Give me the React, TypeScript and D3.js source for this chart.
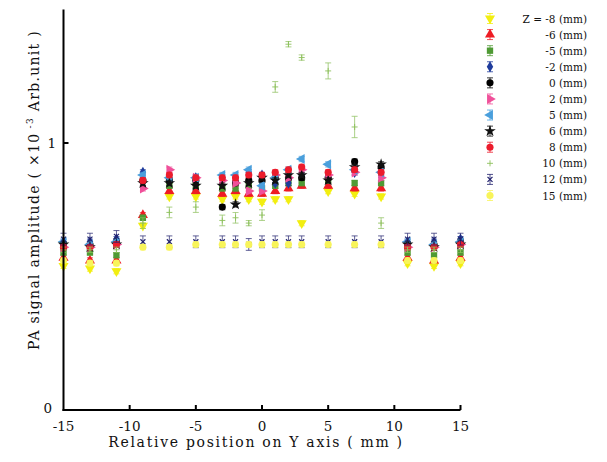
import * as d3 from 'd3';

const positions = [-15, -13, -11, -9, -7, -5, -3, -2, -1, 0, 1, 2, 3, 5, 7, 9, 11, 13, 15];

const zMinus8 = [0.54, 0.53, 0.52, 0.69, 0.80, 0.80, 0.79, 0.80, 0.79, 0.78, 0.79, 0.79, 0.70, 0.82, 0.81, 0.80, 0.55, 0.54, 0.55];
const zMinus6 = [0.57, 0.56, 0.56, 0.73, 0.82, 0.82, 0.81, 0.82, 0.81, 0.81, 0.82, 0.83, 0.84, 0.84, 0.83, 0.83, 0.57, 0.56, 0.57];
const zMinus5 = [0.59, 0.59, 0.58, 0.72, 0.84, 0.84, 0.83, 0.83, 0.84, 0.83, 0.84, 0.85, 0.85, 0.86, 0.85, 0.85, 0.59, 0.58, 0.59];
const zMinus2 = [0.63, 0.63, 0.64, 0.89, 0.87, 0.87, 0.87, 0.86, 0.89, 0.88, 0.85, 0.85, 0.88, 0.88, 0.89, 0.88, 0.63, 0.63, 0.64];
const z0 = [0.62, 0.62, 0.63, 0.86, 0.86, 0.86, 0.76, 0.85, 0.86, 0.86, 0.87, 0.87, 0.87, 0.87, 0.93, 0.91, 0.62, 0.62, 0.63];
const z2 = [0.61, 0.61, 0.62, 0.83, 0.90, 0.87, 0.86, 0.85, 0.82, 0.82, 0.88, 0.87, 0.90, 0.88, 0.89, 0.87, 0.61, 0.61, 0.62];
const z5 = [0.63, 0.62, 0.63, 0.88, 0.87, 0.87, 0.88, 0.88, 0.90, 0.84, 0.87, 0.90, 0.94, 0.92, 0.90, 0.89, 0.63, 0.62, 0.63];
const z6 = [0.62, 0.61, 0.62, 0.85, 0.85, 0.84, 0.84, 0.77, 0.85, 0.87, 0.86, 0.88, 0.88, 0.86, 0.91, 0.92, 0.62, 0.61, 0.62];
const z8 = [0.61, 0.61, 0.62, 0.86, 0.88, 0.87, 0.87, 0.87, 0.88, 0.88, 0.89, 0.90, 0.91, 0.89, 0.90, 0.89, 0.61, 0.61, 0.62];
const z10 = [0.60, 0.60, 0.60, 0.70, 0.74, 0.76, 0.71, 0.72, 0.70, 0.73, 1.21, 1.37, 1.32, 1.27, 1.06, 0.70, 0.60, 0.60, 0.60];
const z12 = [0.64, 0.64, 0.65, 0.63, 0.63, 0.63, 0.63, 0.63, 0.62, 0.63, 0.63, 0.63, 0.63, 0.63, 0.63, 0.63, 0.64, 0.64, 0.64];
const z15 = [0.56, 0.55, 0.55, 0.61, 0.61, 0.62, 0.62, 0.62, 0.62, 0.62, 0.62, 0.62, 0.62, 0.62, 0.62, 0.62, 0.56, 0.56, 0.56];

const z10Err = [0.01, 0.01, 0.01, 0.02, 0.02, 0.02, 0.02, 0.02, 0.01, 0.02, 0.02, 0.01, 0.01, 0.03, 0.04, 0.02, 0.01, 0.01, 0.01];

const labels = ['Z = -8 (mm)', '-6 (mm)', '-5 (mm)', '-2 (mm)', '0 (mm)', '2 (mm)', '5 (mm)', '6 (mm)', '8 (mm)', '10 (mm)', '12 (mm)', '15 (mm)'];
const seriesValues = [zMinus8, zMinus6, zMinus5, zMinus2, z0, z2, z5, z6, z8, z10, z12, z15];
const seriesErr = [0.01, 0.01, 0.01, 0.01, 0.01, 0.01, 0.01, 0.01, 0.01, 0, 0.022, 0.01];

const colors = ['#f2ee10', '#ee1c24', '#4f9a34', '#1f3c9c', '#000000', '#f0509a', '#4a9fdc', '#111111', '#ec1c2c', '#8cbf5a', '#23236e', '#f8f45a'];
const shapes = ['triDown', 'triUp', 'square', 'diamond', 'circle', 'triRight', 'triLeft', 'star', 'circle', 'plus', 'x', 'circle'];

const W = 607;
const H = 462;
const x = d3.scaleLinear().domain([-15, 15]).range([63.5, 460.5]);
const y = d3.scaleLinear().domain([0, 1.5]).range([410, 9.5]);

function Marker({ shape, color, cx, cy }: { shape: string; color: string; cx: number; cy: number }) {
  const tri = d3.symbol().type(d3.symbolTriangle).size(44)()!;
  if (shape === 'triDown' || shape === 'triUp' || shape === 'triRight' || shape === 'triLeft') {
    const rot = { triUp: 0, triDown: 180, triRight: 90, triLeft: -90 }[shape];
    return <path d={tri} transform={`translate(${cx},${cy}) rotate(${rot})`} fill={color} />;
  }
  if (shape === 'plus') {
    return (
      <g stroke={color} strokeWidth={0.9}>
        <line x1={cx - 3} x2={cx + 3} y1={cy} y2={cy} />
        <line x1={cx} x2={cx} y1={cy - 3} y2={cy + 3} />
      </g>
    );
  }
  if (shape === 'x') {
    return (
      <g stroke={color} strokeWidth={1.2}>
        <line x1={cx - 2.5} x2={cx + 2.5} y1={cy - 2.5} y2={cy + 2.5} />
        <line x1={cx - 2.5} x2={cx + 2.5} y1={cy + 2.5} y2={cy - 2.5} />
      </g>
    );
  }
  const typeMap: Record<string, d3.SymbolType> = {
    square: d3.symbolSquare,
    diamond: d3.symbolDiamond,
    circle: d3.symbolCircle,
    star: d3.symbolStar,
  };
  const size = shape === 'star' ? 42 : shape === 'diamond' ? 36 : 40;
  const d = d3.symbol().type(typeMap[shape]).size(size)()!;
  return <path d={d} transform={`translate(${cx},${cy})`} fill={color} />;
}

export default function App() {
  const font = '"DejaVu Serif", "Liberation Serif", serif';
  const legendY = d3.scaleLinear().domain([0, 11]).range([18.5, 195.5]);

  return (
    <svg width={W} height={H} style={{ position: 'absolute', left: 0, top: 0, background: '#fff' }} fontFamily={font}>
      <rect width={W} height={H} fill="#fff" />

      {/* error bars and points */}
      {seriesValues.map((vals, si) => (
        <g key={labels[si]}>
          {vals.map((v, i) => {
            const e = si === 9 ? z10Err[i] : seriesErr[si];
            const cx = x(positions[i]);
            return (
              <g key={i} stroke={colors[si]} strokeWidth={0.8} opacity={0.9}>
                <line x1={cx} x2={cx} y1={y(v - e)} y2={y(v + e)} />
                <line x1={cx - 3} x2={cx + 3} y1={y(v - e)} y2={y(v - e)} />
                <line x1={cx - 3} x2={cx + 3} y1={y(v + e)} y2={y(v + e)} />
              </g>
            );
          })}
          {vals.map((v, i) => (
            <Marker key={'m' + i} shape={shapes[si]} color={colors[si]} cx={x(positions[i])} cy={y(v)} />
          ))}
        </g>
      ))}

      {/* axes */}
      <g stroke="#000" strokeWidth={2} fill="none">
        <line x1={x(-15)} x2={x(-15)} y1={y(1.5)} y2={y(0) + 1} />
        <line x1={x(-15) - 1} x2={x(15)} y1={y(0)} y2={y(0)} />
        <line x1={x(-15)} x2={x(-15) + 5} y1={y(1)} y2={y(1)} />
        {[-10, -5, 0, 5, 10, 15].map((t) => (
          <line key={t} x1={x(t)} x2={x(t)} y1={y(0)} y2={y(0) - 5} />
        ))}
      </g>
      <g fontSize={13.5} fill="#111">
        {[-15, -10, -5, 0, 5, 10, 15].map((t) => (
          <text key={t} x={x(t)} y={431} textAnchor="middle">{t}</text>
        ))}
        <text x={56} y={y(1) + 5} textAnchor="end">1</text>
        <text x={52} y={y(0) + 3} textAnchor="end">0</text>
        <text x={256} y={447} textAnchor="middle" fontSize={14} letterSpacing={1.7}>Relative position on Y axis ( mm )</text>
        <text transform="translate(39,190) rotate(-90)" textAnchor="middle" fontSize={14} letterSpacing={1.3}>
          PA signal amplitude (  ×10
          <tspan dy={-6} fontSize={9}> -3</tspan>
          <tspan dy={6}>  Arb.unit  )</tspan>
        </text>
      </g>

      {/* legend */}
      <g fontSize={10.5} fill="#111">
        {labels.map((l, i) => {
          const ly = legendY(i);
          return (
            <g key={l}>
              {shapes[i] !== 'plus' && (
                <g stroke={colors[i]} strokeWidth={0.8}>
                  <line x1={490} x2={490} y1={ly - 5} y2={ly + 5} />
                  <line x1={487} x2={493} y1={ly - 5} y2={ly - 5} />
                  <line x1={487} x2={493} y1={ly + 5} y2={ly + 5} />
                </g>
              )}
              <Marker shape={shapes[i]} color={colors[i]} cx={490} cy={ly} />
              <text x={587} y={ly + 4} textAnchor="end">{l}</text>
            </g>
          );
        })}
      </g>
    </svg>
  );
}
